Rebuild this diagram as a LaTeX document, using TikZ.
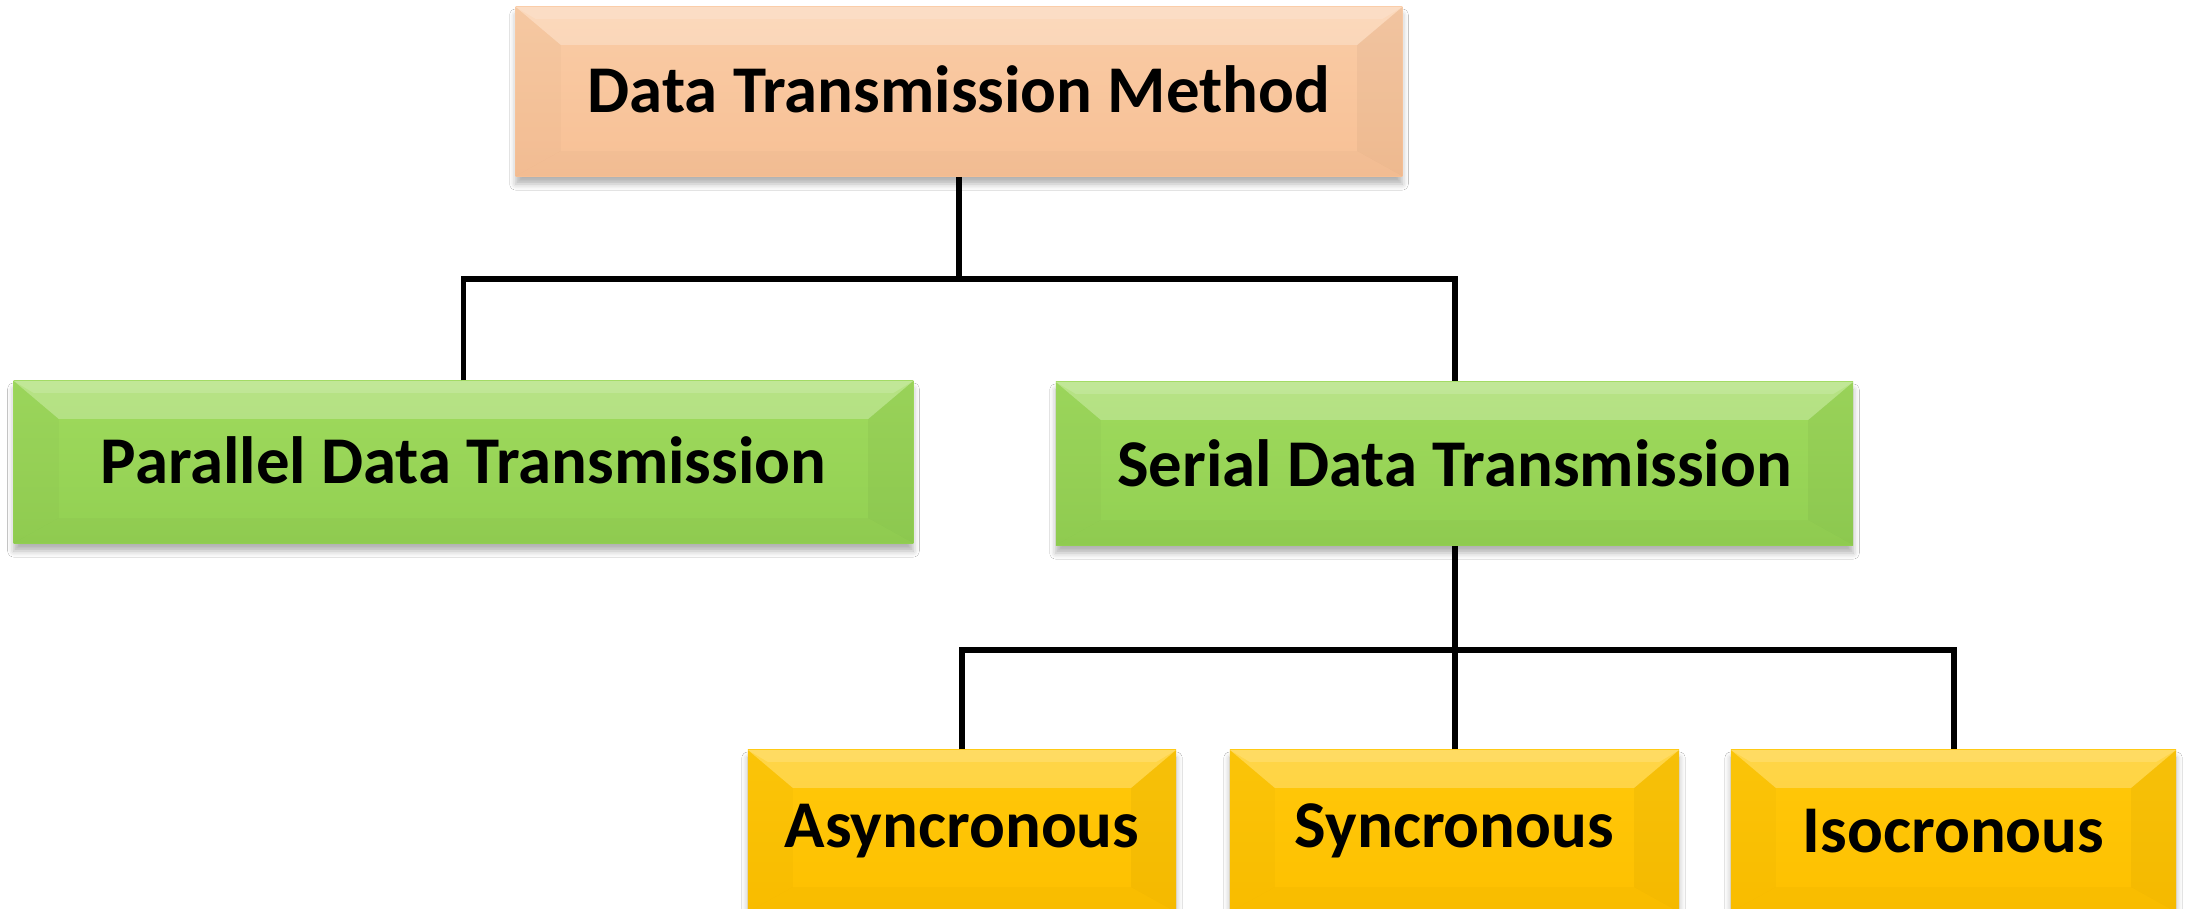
\documentclass[tikz,border=0pt]{standalone}
\usepackage{fontspec}
\setmainfont{Carlito}
\usetikzlibrary{shadows.blur}
\definecolor{peachT}{HTML}{FACCA6}
\definecolor{peachB}{HTML}{F7C095}
\definecolor{greenT}{HTML}{9FDA5D}
\definecolor{greenB}{HTML}{92D052}
\definecolor{goldT}{HTML}{FFC80A}
\definecolor{goldB}{HTML}{FEC000}
\newcommand{\bevx}{0.45cm}
\newcommand{\bevt}{0.38cm}
\newcommand{\bevb}{0.25cm}
\begin{document}
\begin{tikzpicture}[x=0.01cm,y=-0.01cm,
  conn/.style={line width=1.7pt, black},
  bevbox/.style={rectangle, inner sep=0pt, text=black,
    font=\fontsize{19}{22}\selectfont\bfseries,
    blur shadow={shadow xshift=0pt, shadow yshift=-0.08cm, shadow blur radius=0.06cm, shadow opacity=30},
    path picture={
      \fill[white, opacity=0.25] (path picture bounding box.north west) -- (path picture bounding box.north east)
        -- ([shift={(-\bevx,-\bevt)}]path picture bounding box.north east) -- ([shift={(\bevx,-\bevt)}]path picture bounding box.north west) -- cycle;
      \fill[white, opacity=0.15] (path picture bounding box.north west) -- (path picture bounding box.north east)
        -- ([shift={(-0.2cm,-0.12cm)}]path picture bounding box.north east) -- ([shift={(0.2cm,-0.12cm)}]path picture bounding box.north west) -- cycle;
      \fill[black, opacity=0.02] (path picture bounding box.north west) -- ([shift={(\bevx,-\bevt)}]path picture bounding box.north west)
        -- ([shift={(\bevx,\bevb)}]path picture bounding box.south west) -- (path picture bounding box.south west) -- cycle;
      \fill[black, opacity=0.035] (path picture bounding box.north east) -- ([shift={(-\bevx,-\bevt)}]path picture bounding box.north east)
        -- ([shift={(-\bevx,\bevb)}]path picture bounding box.south east) -- (path picture bounding box.south east) -- cycle;
      \fill[black, opacity=0.02] (path picture bounding box.south west) -- ([shift={(\bevx,\bevb)}]path picture bounding box.south west)
        -- ([shift={(-\bevx,\bevb)}]path picture bounding box.south east) -- (path picture bounding box.south east) -- cycle;
    }},
  peachbox/.style={bevbox, top color=peachT, bottom color=peachB},
  greenbox/.style={bevbox, top color=greenT, bottom color=greenB},
  goldbox/.style={bevbox, top color=goldT, bottom color=goldB}
]
\fill[white] (0,0) rectangle (2190,909);
\useasboundingbox (0,0) rectangle (2190,909);

\node[peachbox, minimum width=8.86cm, minimum height=1.69cm] (dtm) at (959,91.5) {\raisebox{0.05cm}{Data Transmission Method}};
\node[greenbox, minimum width=8.99cm, minimum height=1.62cm] (pdt) at (463.5,462) {\raisebox{0.03cm}{Parallel Data Transmission}};
\node[greenbox, minimum width=7.97cm, minimum height=1.63cm] (sdt) at (1454.5,463.5) {Serial Data Transmission};
\node[goldbox, minimum width=4.28cm, minimum height=1.62cm] (asy) at (962,831) {Asyncronous};
\node[goldbox, minimum width=4.49cm, minimum height=1.62cm] (syn) at (1454.5,831) {Syncronous};
\node[goldbox, minimum width=4.45cm, minimum height=1.62cm] (iso) at (1953.5,831) {Isocronous};

\coordinate (j1) at (961,279);
\coordinate (j2) at (1455,650);
\draw[conn] (dtm.south) -- (dtm.south |- j1);
\draw[conn] (pdt.north) |- (sdt.north |- j1) -- (sdt.north);
\draw[conn] (sdt.south) -- (sdt.south |- j2);
\draw[conn] (asy.north) |- (iso.north |- j2) -- (iso.north);
\draw[conn] (syn.north) -- (syn.north |- j2);
\end{tikzpicture}
\end{document}
